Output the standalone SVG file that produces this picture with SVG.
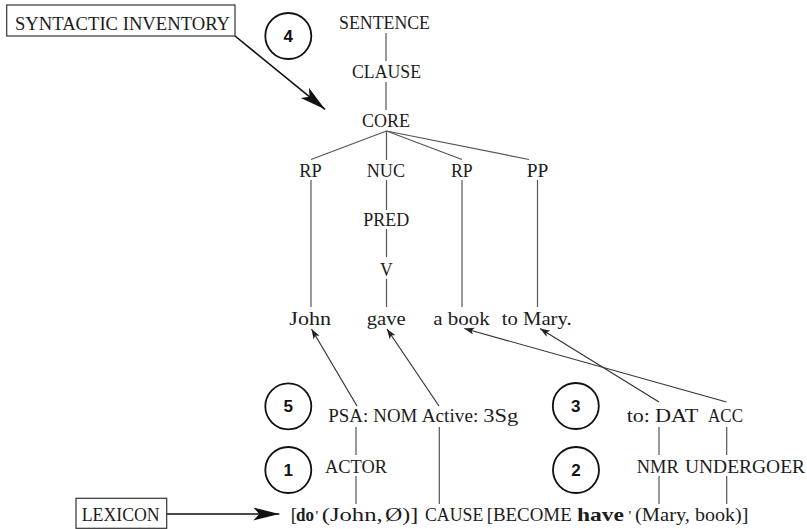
<svg xmlns="http://www.w3.org/2000/svg" width="807" height="529" viewBox="0 0 807 529">
<style>
.t{font-family:"Liberation Serif","Times New Roman",serif;font-size:19px;fill:#1c1c1c}
.b{font-weight:bold}
.n{font-family:"Liberation Sans",Arial,sans-serif;font-size:17px;font-weight:bold;fill:#111;text-anchor:middle}
.c{fill:none;stroke:#111;stroke-width:1.8}
.box{fill:#fff;stroke:#333;stroke-width:1.2}
.ln{stroke:#555;stroke-width:1.2;fill:none}
.ar{stroke:#333;stroke-width:1.2;fill:none;marker-end:url(#sm)}
.big{stroke:#111;stroke-width:1.6;fill:none;marker-end:url(#lg)}
</style>
<defs>
<marker id="sm" markerUnits="userSpaceOnUse" markerWidth="12" markerHeight="8" refX="10" refY="3.5" orient="auto">
<path d="M0,0 L10,3.5 L0,7 L2.5,3.5 z" fill="#222"/>
</marker>
<marker id="lg" markerUnits="userSpaceOnUse" markerWidth="28" markerHeight="14" refX="26" refY="6.5" orient="auto">
<path d="M0,0 L26,6.5 L0,13 L6,6.5 z" fill="#111"/>
</marker>
</defs>
<rect width="807" height="529" fill="#fff"/>

<g id="connectors">
<line class="ln" x1="386" y1="33" x2="386" y2="61"/>
<line class="ln" x1="386" y1="82" x2="386" y2="110"/>
<line class="ln" x1="386.5" y1="131" x2="311" y2="159.5"/>
<line class="ln" x1="386.5" y1="131" x2="386.5" y2="160"/>
<line class="ln" x1="386.5" y1="131" x2="462" y2="159.5"/>
<line class="ln" x1="386.5" y1="131" x2="529" y2="159.5"/>
<line class="ln" x1="311" y1="180" x2="311" y2="307"/>
<line class="ln" x1="386.5" y1="180" x2="386.5" y2="210"/>
<line class="ln" x1="386.5" y1="229" x2="386.5" y2="257"/>
<line class="ln" x1="386.5" y1="279" x2="386.5" y2="307"/>
<line class="ln" x1="462" y1="180" x2="462" y2="307"/>
<line class="ln" x1="537.5" y1="180" x2="537.5" y2="307"/>
<line class="big" x1="235" y1="36" x2="325" y2="109.3"/>
<line class="big" x1="167" y1="514" x2="279.3" y2="514"/>
<line class="ar" x1="357" y1="406" x2="311.5" y2="329"/>
<line class="ar" x1="439" y1="406" x2="387" y2="329"/>
<line class="ar" x1="726.5" y1="402" x2="464.3" y2="328.5"/>
<line class="ar" x1="659" y1="402" x2="540" y2="328.5"/>
<line class="ln" x1="356" y1="427" x2="356" y2="455"/>
<line class="ln" x1="356" y1="476" x2="356" y2="504"/>
<line class="ln" x1="439.3" y1="427" x2="439.3" y2="504"/>
<line class="ln" x1="659" y1="427" x2="659" y2="455"/>
<line class="ln" x1="659" y1="476" x2="659" y2="504"/>
<line class="ln" x1="726.7" y1="427" x2="726.7" y2="455"/>
<line class="ln" x1="726.7" y1="476" x2="726.7" y2="504"/>
</g>

<g id="syntactic-inventory">
<rect class="box" x="6.7" y="5" width="228.3" height="31"/>
<text class="t" x="15" y="30" textLength="215" lengthAdjust="spacingAndGlyphs">SYNTACTIC INVENTORY</text>
</g>
<g id="lexicon">
<rect class="box" x="76" y="498.3" width="90.7" height="30"/>
<text class="t" x="81.7" y="521" textLength="78" lengthAdjust="spacingAndGlyphs">LEXICON</text>
</g>

<g id="step4"><circle class="c" cx="288.3" cy="36" r="23"/><text class="n" x="288.3" y="42">4</text></g>
<g id="step5"><circle class="c" cx="288.3" cy="406.3" r="23"/><text class="n" x="288.3" y="412.3">5</text></g>
<g id="step1"><circle class="c" cx="288.3" cy="470" r="23"/><text class="n" x="288.3" y="476">1</text></g>
<g id="step3"><circle class="c" cx="575.8" cy="406" r="23"/><text class="n" x="575.8" y="412">3</text></g>
<g id="step2"><circle class="c" cx="576" cy="470" r="23"/><text class="n" x="576" y="476">2</text></g>

<g id="sentence"><text class="t" x="339" y="29" textLength="91" lengthAdjust="spacingAndGlyphs">SENTENCE</text></g>
<g id="clause"><text class="t" x="352" y="78" textLength="69" lengthAdjust="spacingAndGlyphs">CLAUSE</text></g>
<g id="core"><text class="t" x="362" y="127" textLength="48" lengthAdjust="spacingAndGlyphs">CORE</text></g>
<g id="rp1"><text class="t" x="299.3" y="177" textLength="22.4" lengthAdjust="spacingAndGlyphs">RP</text></g>
<g id="nuc"><text class="t" x="366.7" y="177" textLength="38.3" lengthAdjust="spacingAndGlyphs">NUC</text></g>
<g id="rp2"><text class="t" x="451" y="177" textLength="21.7" lengthAdjust="spacingAndGlyphs">RP</text></g>
<g id="pp"><text class="t" x="526.7" y="177" textLength="21.6" lengthAdjust="spacingAndGlyphs">PP</text></g>
<g id="pred"><text class="t" x="363.3" y="226" textLength="46" lengthAdjust="spacingAndGlyphs">PRED</text></g>
<g id="v"><text class="t" x="380" y="276" textLength="12.7" lengthAdjust="spacingAndGlyphs">V</text></g>
<g id="john"><text class="t" x="289.3" y="325" textLength="41.7" lengthAdjust="spacingAndGlyphs">John</text></g>
<g id="gave"><text class="t" x="366.7" y="325" textLength="39" lengthAdjust="spacingAndGlyphs">gave</text></g>
<g id="a-book"><text class="t" x="433.3" y="325" textLength="56.5" lengthAdjust="spacingAndGlyphs">a book</text></g>
<g id="to-mary"><text class="t" x="501.7" y="325" textLength="70" lengthAdjust="spacingAndGlyphs">to Mary.</text></g>

<g id="psa-row"><text class="t" y="422"><tspan x="328.3" textLength="40" lengthAdjust="spacingAndGlyphs">PSA:</tspan> <tspan x="373.3" textLength="44" lengthAdjust="spacingAndGlyphs">NOM</tspan> <tspan x="421.7" textLength="56.6" lengthAdjust="spacingAndGlyphs">Active:</tspan> <tspan x="483.3" textLength="35" lengthAdjust="spacingAndGlyphs">3Sg</tspan></text></g>
<g id="dat"><text class="t" y="422"><tspan x="626.7" textLength="23.3" lengthAdjust="spacingAndGlyphs">to:</tspan> <tspan x="655" textLength="43.3" lengthAdjust="spacingAndGlyphs">DAT</tspan></text></g>
<g id="acc"><text class="t" x="708" y="422" textLength="35" lengthAdjust="spacingAndGlyphs">ACC</text></g>
<g id="actor"><text class="t" x="325" y="473" textLength="62" lengthAdjust="spacingAndGlyphs">ACTOR</text></g>
<g id="nmr"><text class="t" x="636.7" y="473" textLength="42" lengthAdjust="spacingAndGlyphs">NMR</text></g>
<g id="undergoer"><text class="t" x="685" y="473" textLength="120" lengthAdjust="spacingAndGlyphs">UNDERGOER</text></g>

<g id="logical-structure"><text class="t" y="521"><tspan x="290.7">[</tspan><tspan x="296" class="b" textLength="18" lengthAdjust="spacingAndGlyphs">do</tspan><tspan x="315.5" font-size="15">'</tspan> <tspan x="321.7" textLength="61" lengthAdjust="spacingAndGlyphs">(John,</tspan> <tspan x="385" textLength="33.3" lengthAdjust="spacingAndGlyphs">Ø)]</tspan> <tspan x="425" textLength="58.3" lengthAdjust="spacingAndGlyphs">CAUSE</tspan> <tspan x="486.7" textLength="85" lengthAdjust="spacingAndGlyphs">[BECOME</tspan> <tspan x="577" class="b" textLength="47" lengthAdjust="spacingAndGlyphs">have</tspan><tspan x="628.5" font-size="15">'</tspan> <tspan x="635" textLength="55" lengthAdjust="spacingAndGlyphs">(Mary,</tspan> <tspan x="695" textLength="53.3" lengthAdjust="spacingAndGlyphs">book)]</tspan></text></g>
</svg>
